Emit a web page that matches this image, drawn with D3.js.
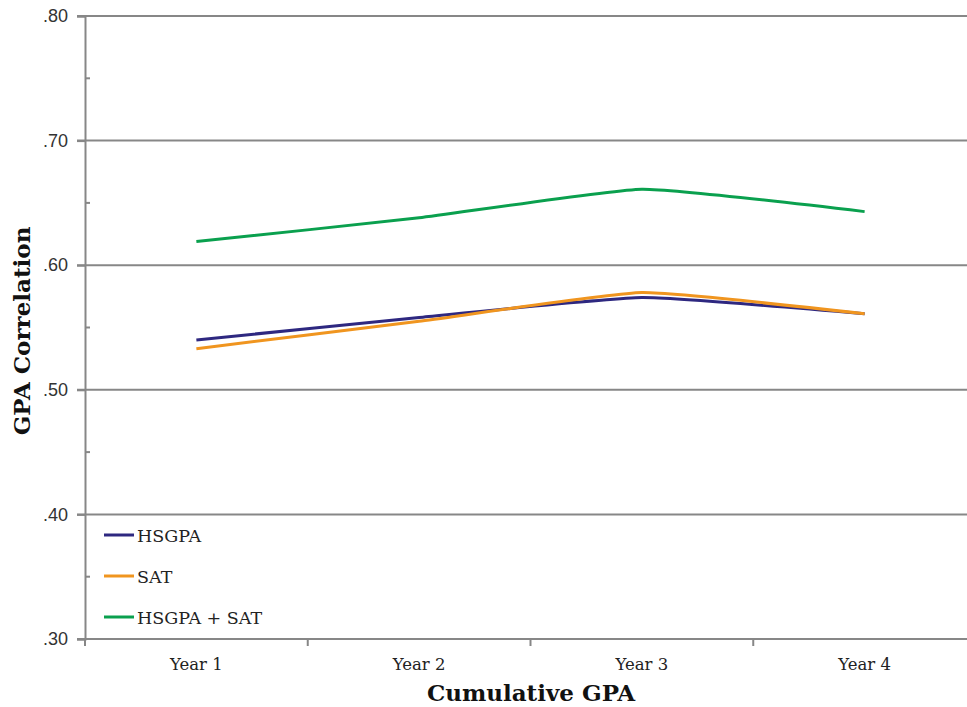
<!DOCTYPE html>
<html><head><meta charset="utf-8">
<script src="https://cdn.jsdelivr.net/npm/d3@7"></script>
<style>body{margin:0;background:#fff}svg{display:block}</style>
</head><body>
<svg id="c" width="967" height="707"></svg>
<script>
const years = ["Year 1","Year 2","Year 3","Year 4"];
const hsgpa = [0.540, 0.558, 0.574, 0.561];
const sat = [0.533, 0.555, 0.578, 0.561];
const combined = [0.619, 0.638, 0.661, 0.643];
const yTicks = [0.30, 0.40, 0.50, 0.60, 0.70, 0.80];
const yMinor = [0.35, 0.45, 0.55, 0.65, 0.75];
const seriesNames = ["HSGPA", "SAT", "HSGPA + SAT"];
const colors = ["#2e2880", "#f0951f", "#0aa04e"];

const svg = d3.select("#c");
const L = 85, R = 976, T = 16, B = 639;
const x = d3.scaleBand().domain(years).range([L, R]).padding(0);
const y = d3.scaleLinear().domain([0.30, 0.80]).range([B, T]);
const grey = "#878787";
const serif = "DejaVu Serif, serif";

// gridlines
svg.append("g").selectAll("line").data(yTicks.slice(1)).join("line")
  .attr("x1", L - 8).attr("x2", 967).attr("y1", d => y(d)).attr("y2", d => y(d))
  .attr("stroke", grey).attr("stroke-width", 2);

// y axis
const yAxis = svg.append("g").attr("transform", `translate(${L},0)`)
  .call(d3.axisLeft(y).tickValues(yTicks).tickSize(8).tickFormat(d => d3.format(".2f")(d).replace(/^0/, "")));
yAxis.select(".domain").attr("stroke", grey).attr("stroke-width", 2);
yAxis.selectAll(".tick line").attr("stroke", grey).attr("stroke-width", 2);
yAxis.selectAll(".tick text").attr("x", -17).attr("fill", "#333")
  .style("font-family", "Liberation Sans, Arial, sans-serif").style("font-size", "18px");
svg.append("g").selectAll("line").data(yMinor).join("line")
  .attr("x1", L).attr("x2", L + 5).attr("y1", d => y(d)).attr("y2", d => y(d))
  .attr("stroke", grey).attr("stroke-width", 2);

// x axis
svg.append("line").attr("x1", L - 8).attr("x2", 967).attr("y1", B).attr("y2", B)
  .attr("stroke", grey).attr("stroke-width", 2);
const xb = years.map(d => x(d)).concat([x(years[years.length-1]) + x.bandwidth()]);
svg.append("g").selectAll("line").data(xb).join("line")
  .attr("x1", d => d).attr("x2", d => d).attr("y1", B).attr("y2", B + 7)
  .attr("stroke", grey).attr("stroke-width", 2);
svg.append("g").selectAll("text").data(years).join("text")
  .attr("x", d => x(d) + x.bandwidth() / 2).attr("y", 670)
  .attr("text-anchor", "middle").attr("fill", "#222")
  .style("font-family", serif).style("font-size", "16.5px")
  .text(d => d);

// lines
const all = [hsgpa, sat, combined];
const line = d3.line()
  .x((d, i) => x(years[i]) + x.bandwidth() / 2)
  .y(d => y(d))
  .curve(d3.curveCardinal.tension(0.6));
svg.append("g").selectAll("path").data(all).join("path")
  .attr("d", d => line(d)).attr("fill", "none")
  .attr("stroke", (d, i) => colors[i]).attr("stroke-width", 3);

// legend
const lg = svg.append("g").selectAll("g").data(seriesNames).join("g")
  .attr("transform", (d, i) => `translate(104,${535 + i * 41})`);
lg.append("line").attr("x1", 0).attr("x2", 30).attr("stroke", (d, i) => colors[i]).attr("stroke-width", 3);
lg.append("text").attr("x", 33).attr("y", 6.5).attr("fill", "#222")
  .style("font-family", serif).style("font-size", "17.5px")
  .text(d => d);

// titles
svg.append("text").attr("x", 531).attr("y", 701).attr("text-anchor", "middle")
  .attr("fill", "#111").style("font-family", serif).style("font-weight", "bold")
  .style("font-size", "23px").text("Cumulative GPA");
svg.append("text").attr("transform", "translate(30,331) rotate(-90)").attr("text-anchor", "middle")
  .attr("fill", "#111").style("font-family", serif).style("font-weight", "bold")
  .style("font-size", "23px").text("GPA Correlation");
</script>
</body></html>
